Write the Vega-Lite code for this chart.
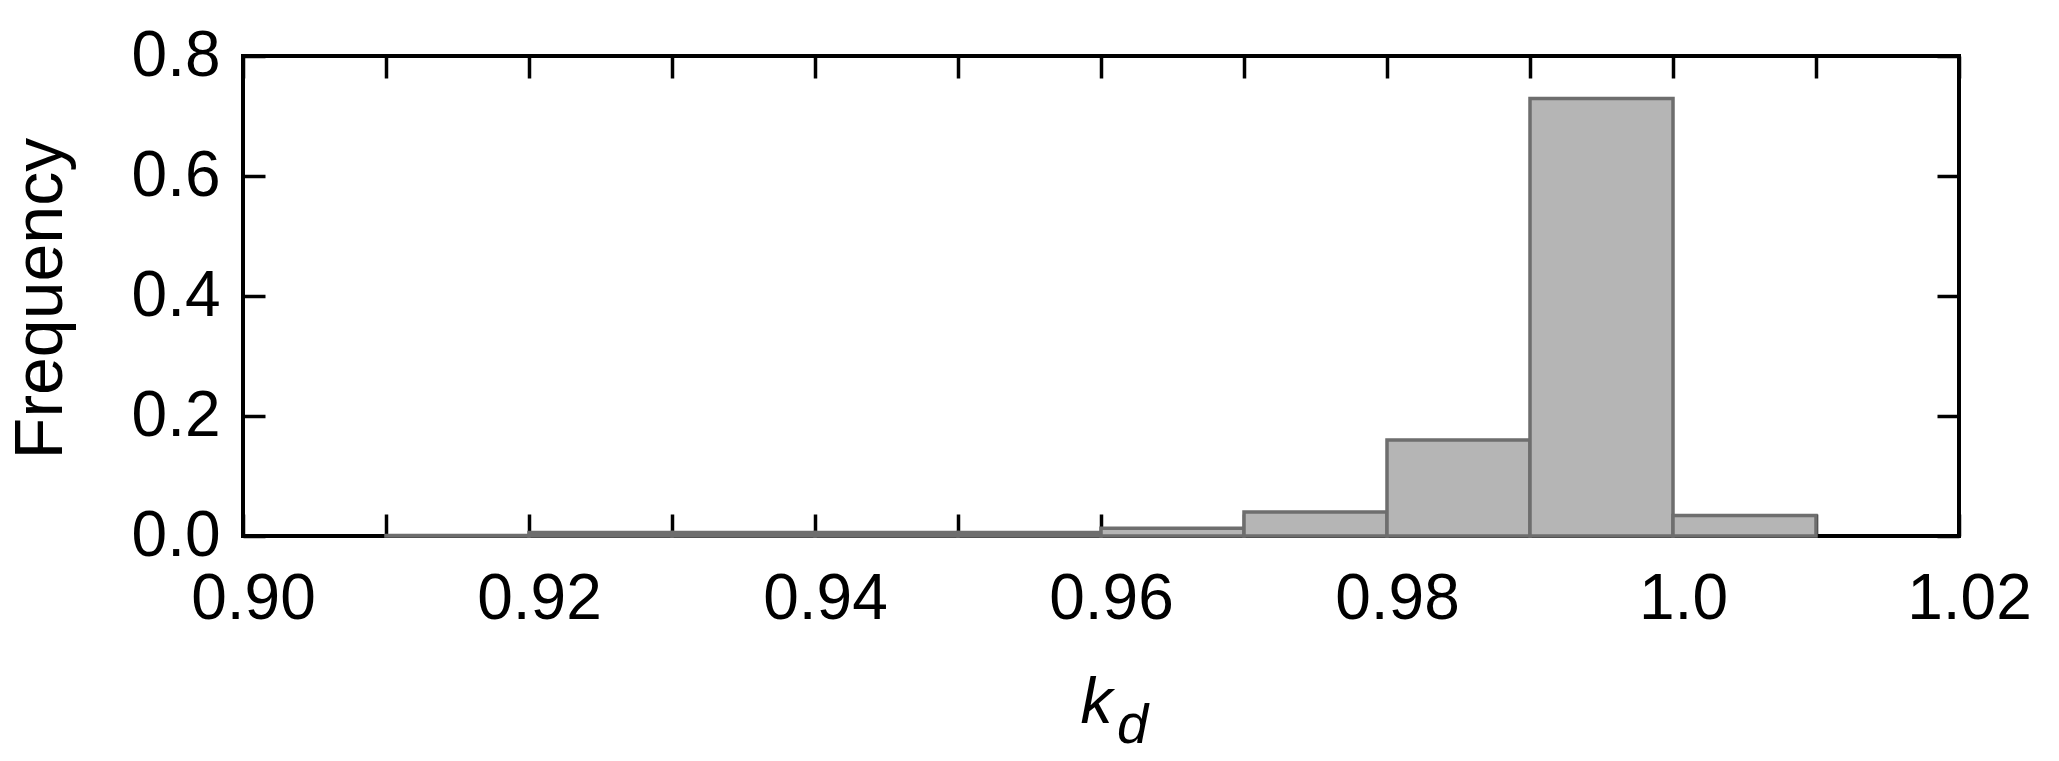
{
  "$schema": "https://vega.github.io/schema/vega-lite/v6.json",
  "width": 1716,
  "height": 480,
  "autosize": {"type": "none"},
  "padding": {"left": 243, "top": 56, "right": 100, "bottom": 225},
  "background": "white",
  "config": {
    "view": {"stroke": "black", "strokeWidth": 4},
    "axis": {
      "labelFont": "Liberation Sans",
      "labelFontSize": 64,
      "labelColor": "black",
      "titleFont": "Liberation Sans",
      "titleFontSize": 64,
      "titleFontWeight": "normal",
      "titleColor": "black",
      "tickColor": "black",
      "tickWidth": 3.5,
      "tickSize": -22,
      "domain": false,
      "grid": false
    }
  },
  "data": {
    "values": [
      {"bin_start": 0.91, "bin_end": 0.92, "freq": 0.001},
      {"bin_start": 0.92, "bin_end": 0.93, "freq": 0.006},
      {"bin_start": 0.93, "bin_end": 0.94, "freq": 0.006},
      {"bin_start": 0.94, "bin_end": 0.95, "freq": 0.006},
      {"bin_start": 0.95, "bin_end": 0.96, "freq": 0.006},
      {"bin_start": 0.96, "bin_end": 0.97, "freq": 0.013},
      {"bin_start": 0.97, "bin_end": 0.98, "freq": 0.040},
      {"bin_start": 0.98, "bin_end": 0.99, "freq": 0.160},
      {"bin_start": 0.99, "bin_end": 1.00, "freq": 0.729},
      {"bin_start": 1.00, "bin_end": 1.01, "freq": 0.034}
    ]
  },
  "layer": [
    {
      "mark": {"type": "rect", "fill": "#b5b5b5", "stroke": "#6e6e6e", "strokeWidth": 3.5},
      "encoding": {
        "x": {
          "field": "bin_start",
          "type": "quantitative",
          "scale": {"domain": [0.9, 1.02], "nice": false, "zero": false},
          "axis": {
            "orient": "bottom",
            "values": [0.9, 0.91, 0.92, 0.93, 0.94, 0.95, 0.96, 0.97, 0.98, 0.99, 1.0, 1.01, 1.02],
            "labelExpr": "round(datum.value*100) % 2 == 0 ? (round(datum.value*100) == 100 ? '1.0' : format(datum.value, '.2f')) : ''",
            "labelPadding": 53,
            "labelOffset": 10,
            "labelFlush": false,
            "labelOverlap": false,
            "title": "k",
            "titleFontStyle": "italic",
            "titleX": 853,
            "titleY": 186,
            "titleBaseline": "alphabetic",
            "titleAlign": "center"
          }
        },
        "x2": {"field": "bin_end"},
        "y": {
          "field": "freq",
          "type": "quantitative",
          "scale": {"domain": [0, 0.8], "nice": false},
          "axis": {
            "orient": "left",
            "values": [0, 0.2, 0.4, 0.6, 0.8],
            "format": ".1f",
            "labelPadding": 45,
            "labelFlush": false,
            "labelOverlap": false,
            "title": "Frequency",
            "titleFontSize": 68,
            "titleAngle": -90,
            "titleX": -182,
            "titleY": 242,
            "titleAlign": "center",
            "titleBaseline": "alphabetic"
          }
        }
      }
    },
    {
      "mark": {"type": "rect", "opacity": 0},
      "encoding": {
        "x": {
          "field": "bin_start",
          "type": "quantitative",
          "axis": {
            "orient": "top",
            "values": [0.9, 0.91, 0.92, 0.93, 0.94, 0.95, 0.96, 0.97, 0.98, 0.99, 1.0, 1.01, 1.02],
            "labels": false,
            "title": null
          }
        },
        "x2": {"field": "bin_end"},
        "y": {
          "field": "freq",
          "type": "quantitative",
          "axis": {
            "orient": "right",
            "values": [0, 0.2, 0.4, 0.6, 0.8],
            "labels": false,
            "title": null
          }
        }
      }
    },
    {
      "mark": {"type": "rect", "opacity": 0},
      "encoding": {
        "x": {
          "field": "bin_start",
          "type": "quantitative",
          "axis": {
            "orient": "bottom",
            "ticks": false,
            "labels": false,
            "title": "d",
            "titleFontStyle": "italic",
            "titleFontSize": 56,
            "titleX": 889,
            "titleY": 206,
            "titleBaseline": "alphabetic",
            "titleAlign": "center"
          }
        },
        "x2": {"field": "bin_end"},
        "y": {"field": "freq", "type": "quantitative", "axis": null}
      }
    }
  ],
  "resolve": {"axis": {"x": "independent", "y": "independent"}}
}
